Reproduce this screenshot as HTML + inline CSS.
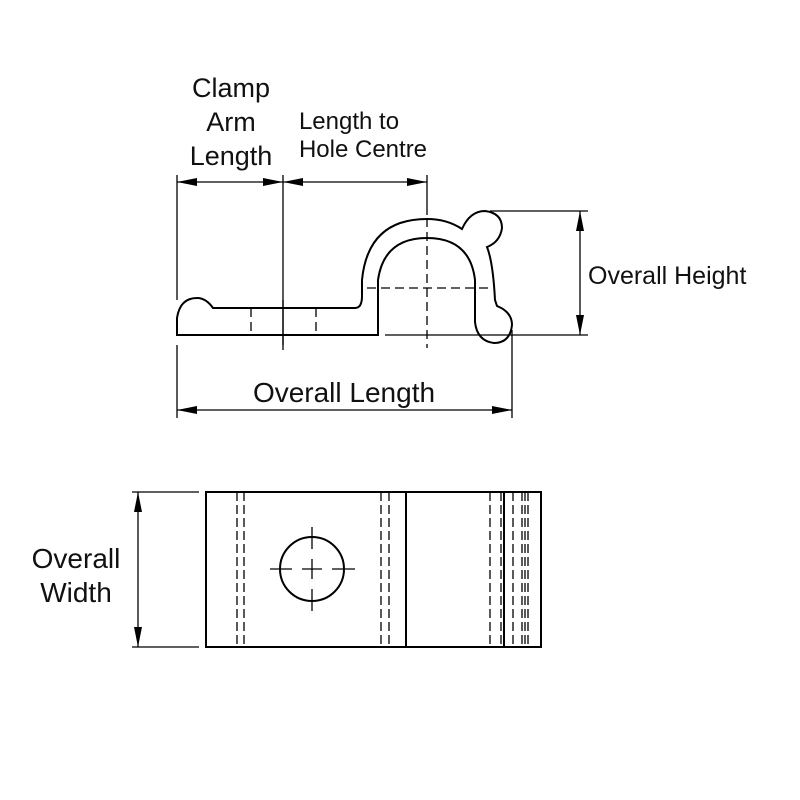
<!DOCTYPE html>
<html><head><style>body{margin:0;background:#fff}svg{display:block}text{font-family:"Liberation Sans",sans-serif;font-size:27px;fill:#111}</style></head><body>
<svg width="800" height="800" viewBox="0 0 800 800" xmlns="http://www.w3.org/2000/svg">
<defs>
<marker id="a" viewBox="0 0 20 8" refX="20" refY="4" markerWidth="20" markerHeight="8" markerUnits="userSpaceOnUse" orient="auto-start-reverse"><path d="M0,0 L20,4 L0,8z" fill="#000"/></marker>
</defs>
<g stroke="#000" fill="none" stroke-width="1.3">
<line x1="177" y1="175" x2="177" y2="300"/>
<line x1="283" y1="175" x2="283" y2="350"/>
<line x1="427" y1="175" x2="427" y2="215"/>
<line x1="177" y1="345" x2="177" y2="418"/>
<line x1="512" y1="330" x2="512" y2="418"/>
<line x1="490" y1="211" x2="588" y2="211"/>
<line x1="385" y1="335" x2="588" y2="335"/>
<line x1="177" y1="182" x2="283" y2="182" marker-start="url(#a)" marker-end="url(#a)"/>
<line x1="283" y1="182" x2="427" y2="182" marker-start="url(#a)" marker-end="url(#a)"/>
<line x1="580" y1="211" x2="580" y2="335" marker-start="url(#a)" marker-end="url(#a)"/>
<line x1="177" y1="410" x2="512" y2="410" marker-start="url(#a)" marker-end="url(#a)"/>
<g stroke-width="2">
<path d="M378,335 L177,335 L177,318 Q180,298 197,298 Q206,298 213,308 L355,308 Q362,308 362,296 L362,280 Q368,219 427,219 Q447,219 462,229 Q470,211 485,211 Q502,213 502,228 Q500,242 487,247 Q493,262 495,300 L497,306 Q512,312 512,325 Q510,343 494,343 Q477,341 475,322 L475,280 Q470,238 427,238 Q384,238 378,280 Z"/>
</g>
<g stroke-dasharray="9,5">
<line x1="251" y1="308" x2="251" y2="335"/>
<line x1="316" y1="308" x2="316" y2="335"/>
<line x1="427" y1="218" x2="427" y2="348"/>
<line x1="367" y1="288" x2="488" y2="288"/>
</g>
<line x1="283" y1="300" x2="283" y2="345"/>
<rect x="206" y="492" width="335" height="155" stroke-width="2"/>
<line x1="406" y1="492" x2="406" y2="647" stroke-width="2"/>
<line x1="504" y1="492" x2="504" y2="647" stroke-width="2"/>
<g stroke-dasharray="9,4">
<line x1="237" y1="492" x2="237" y2="647"/><line x1="244" y1="492" x2="244" y2="647"/>
<line x1="381" y1="492" x2="381" y2="647"/><line x1="389" y1="492" x2="389" y2="647"/>
<line x1="490" y1="492" x2="490" y2="647"/><line x1="501" y1="492" x2="501" y2="647"/>
<line x1="513" y1="492" x2="513" y2="647"/><line x1="522" y1="492" x2="522" y2="647"/>
<line x1="525" y1="492" x2="525" y2="647"/><line x1="528" y1="492" x2="528" y2="647"/>
</g>
<circle cx="312" cy="569" r="32" stroke-width="2"/>
<path d="M270,569 H292 M302,569 H322 M332,569 H355 M312,527 V549 M312,559 V579 M312,589 V611"/>
<line x1="132" y1="492" x2="199" y2="492"/>
<line x1="132" y1="647" x2="199" y2="647"/>
<line x1="138" y1="492" x2="138" y2="647" marker-start="url(#a)" marker-end="url(#a)"/>
</g>
<text x="231" y="97" text-anchor="middle">Clamp</text>
<text x="231" y="131" text-anchor="middle">Arm</text>
<text x="231" y="165" text-anchor="middle">Length</text>
<text x="349" y="129" text-anchor="middle" style="font-size:24px">Length to</text>
<text x="363" y="157" text-anchor="middle" style="font-size:24px">Hole Centre</text>
<text x="588" y="284" style="font-size:25px">Overall Height</text>
<text x="344" y="402" text-anchor="middle" style="font-size:28px">Overall Length</text>
<text x="76" y="568" text-anchor="middle" style="font-size:28px">Overall</text>
<text x="76" y="602" text-anchor="middle" style="font-size:28px">Width</text>
</svg>
</body></html>
